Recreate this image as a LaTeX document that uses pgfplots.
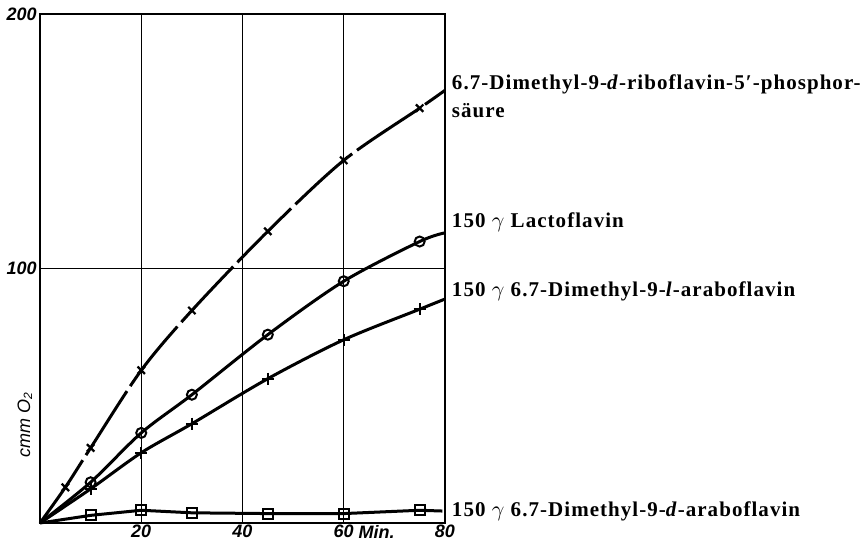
\documentclass[border=0pt]{standalone}
\usepackage{pgfplots}
\pgfplotsset{compat=1.18}
\usepackage{fontspec}
\setmainfont{Liberation Serif}
\newfontfamily\tickfont{Liberation Sans}
\newfontfamily\labfont[LetterSpace=5]{Liberation Serif}
\newcommand{\tf}{\tickfont\itshape\bfseries\fontsize{9}{10}\selectfont}
\newcommand{\lf}{\labfont\bfseries\fontsize{10.5}{12}\selectfont}
\begin{document}
\begin{tikzpicture}
\begin{axis}[
  scale only axis, width=202.5pt, height=254.5pt,
  at={(0,0)}, anchor=south west,
  xmin=0, xmax=80, ymin=0, ymax=200,
  xtick={20,40,60,80}, ytick={100,200},
  major tick length=0pt,
  grid=major, major grid style={black, line width=0.7pt},
  axis line style={black, line width=1pt},
  clip=false,
  /pgf/number format/assume math mode=true,
  ticklabel style={font=\tf},
  xticklabel style={inner sep=1pt},
  yticklabel style={inner sep=1.5pt},
]
\addplot[black, line width=1.5pt, smooth, dash pattern=on 38pt off 3pt,
  mark=x, mark size=2.6pt, mark indices={2,3,4,5,6,7,8}, mark options={solid, line width=1.1pt}]
  coordinates {(0,0)(5,14)(10,29.5)(20,60)(30,83.5)(45,114.6)(60,142.5)(75,163)(80,170)};
\addplot[black, line width=1.5pt, smooth,
  mark=o, mark size=2.5pt, mark indices={2,3,4,5,6,7}, mark options={solid, fill=white, line width=1pt}]
  coordinates {(0,0)(10,16)(20,35.4)(30,50.4)(45,74)(60,95)(75,110.6)(80,114)};
\addplot[black, line width=1.5pt, smooth,
  mark=+, mark size=3pt, mark indices={2,3,4,5,6,7}, mark options={solid, line width=1pt}]
  coordinates {(0,0)(10,13.4)(20,27.6)(30,39)(45,56.7)(60,72)(75,84)(80,88)};
\addplot[black, line width=1.5pt,
  mark=square, mark size=2.5pt, mark indices={2,3,4,5,6,7}, mark options={solid, fill=white, line width=1pt, rounded corners=1pt}]
  coordinates {(0,0)(10,3)(20,5)(30,4)(45,3.7)(60,3.7)(75,5)(79.5,4.7)};
\node[anchor=north, font=\tf, inner sep=1pt] at (axis cs:66.5,0) {Min.};
\node[rotate=90, font=\tickfont\itshape\fontsize{9}{10}\selectfont] at (axis cs:-3.0,38.5) {cmm O\textsubscript{2}};
\node[anchor=base west, inner sep=0pt, font=\lf] at (axis cs:81.3,170.5) {6.7-Dimethyl-9-\textit{d}-riboflavin-5′-phosphor-};
\node[anchor=base west, inner sep=0pt, font=\lf] at (axis cs:81.3,159.5) {säure};
\node[anchor=base west, inner sep=0pt, font=\lf] at (axis cs:81.3,116) {150 $\gamma$ Lactoflavin};
\node[anchor=base west, inner sep=0pt, font=\lf] at (axis cs:81.3,88.8) {150 $\gamma$ 6.7-Dimethyl-9-\textit{l}-araboflavin};
\node[anchor=base west, inner sep=0pt, font=\lf] at (axis cs:81.3,2.4) {150 $\gamma$ 6.7-Dimethyl-9-\textit{d}-araboflavin};
\end{axis}
\pgfresetboundingbox
\useasboundingbox (-20pt,-8.5pt) rectangle (414pt,261.5pt);
\end{tikzpicture}
\end{document}
